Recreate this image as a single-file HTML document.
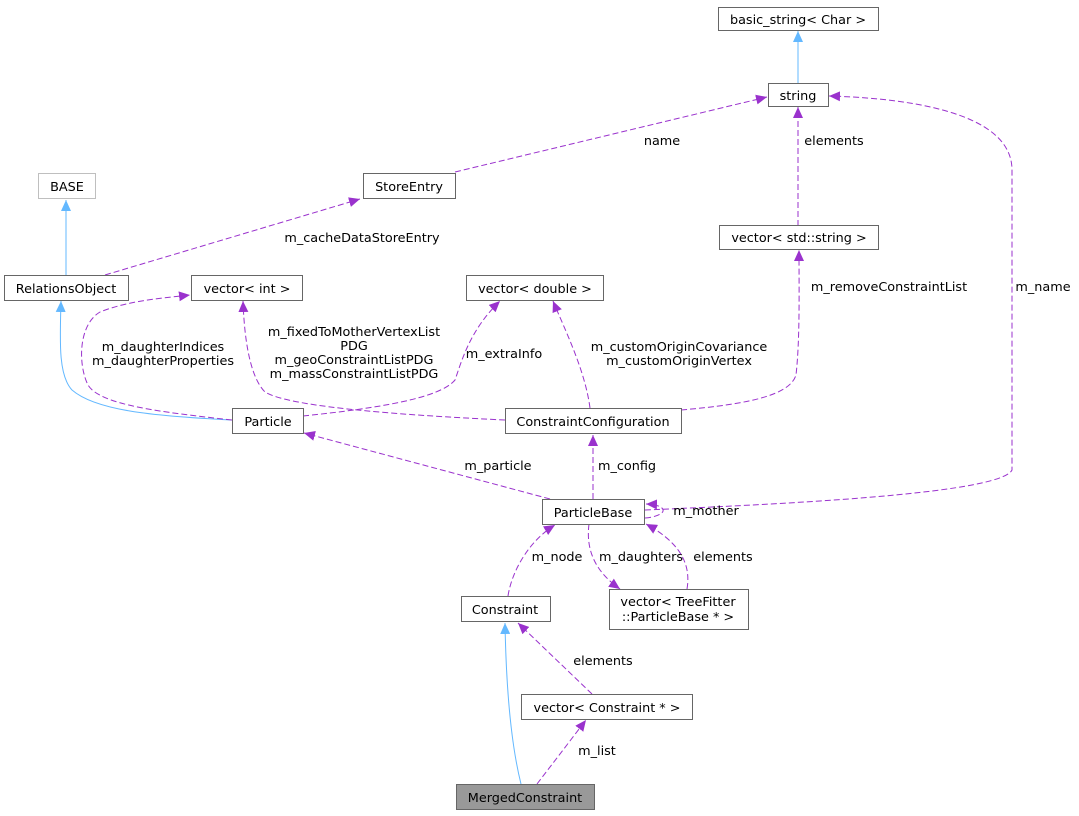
<!DOCTYPE html>
<html><head><meta charset="utf-8"><style>
html,body{margin:0;padding:0;background:#fff;}
svg{display:block;}
text{font-family:"DejaVu Sans","Liberation Sans",sans-serif;font-size:12.8px;fill:#000;}
.b{fill:#fff;stroke:#666;stroke-width:1;}
.p{fill:none;stroke:#9a32cd;stroke-width:1;stroke-dasharray:6,3;}
.u{fill:none;stroke:#63b8ff;stroke-width:1;}
</style></head><body>
<svg width="1079" height="816" viewBox="0 0 1079 816" xmlns="http://www.w3.org/2000/svg">
<defs>
<marker id="ap" markerWidth="12" markerHeight="10" refX="11" refY="5" orient="auto" markerUnits="userSpaceOnUse"><path d="M0,0 L11,5 L0,10 Z" fill="#9a32cd"/></marker>
<marker id="au" markerWidth="12" markerHeight="10" refX="11" refY="5" orient="auto" markerUnits="userSpaceOnUse"><path d="M0,0 L11,5 L0,10 Z" fill="#63b8ff"/></marker>
</defs>

<path class="u" d="M798,83 L798,31" marker-end="url(#au)"/>
<path class="u" d="M66,275 L66,200" marker-end="url(#au)"/>
<path class="u" d="M232,420 C150,416 95,410 72,390 C58,375 60,340 61,301" marker-end="url(#au)"/>
<path class="u" d="M521,784 C510,740 506,680 505,623" marker-end="url(#au)"/>

<path class="p" d="M105,275 L360,199" marker-end="url(#ap)"/>
<text x="362" y="242" text-anchor="middle">m_cacheDataStoreEntry</text>
<path class="p" d="M455,172 L767,97" marker-end="url(#ap)"/>
<text x="662" y="145" text-anchor="middle">name</text>
<path class="p" d="M798,226 L798,107" marker-end="url(#ap)"/>
<text x="834" y="145" text-anchor="middle">elements</text>
<path class="p" d="M645,510 C760,505 1000,495 1012,470 L1012,170 C1012,110 900,98 829,96" marker-end="url(#ap)"/>
<text x="1043" y="291" text-anchor="middle">m_name</text>

<path class="p" d="M232,420 C160,412 100,405 88,385 C78,365 78,325 100,312 C130,300 165,298 190,295" marker-end="url(#ap)"/>
<text x="163" y="351" text-anchor="middle">m_daughterIndices</text>
<text x="163" y="365" text-anchor="middle">m_daughterProperties</text>
<path class="p" d="M505,420 C420,416 290,408 265,392 C248,375 244,330 243,301" marker-end="url(#ap)"/>
<text x="354" y="336" text-anchor="middle">m_fixedToMotherVertexList</text>
<text x="354" y="350" text-anchor="middle">PDG</text>
<text x="354" y="364" text-anchor="middle">m_geoConstraintListPDG</text>
<text x="354" y="378" text-anchor="middle">m_massConstraintListPDG</text>
<path class="p" d="M303,416 C380,408 440,398 455,380 C462,360 470,330 500,301" marker-end="url(#ap)"/>
<text x="504" y="358" text-anchor="middle">m_extraInfo</text>
<path class="p" d="M590,408 C585,370 565,330 553,301" marker-end="url(#ap)"/>
<text x="679" y="351" text-anchor="middle">m_customOriginCovariance</text>
<text x="679" y="365" text-anchor="middle">m_customOriginVertex</text>
<path class="p" d="M681,410 C750,404 790,395 796,375 C800,340 799,290 799,250" marker-end="url(#ap)"/>
<text x="889" y="291" text-anchor="middle">m_removeConstraintList</text>

<path class="p" d="M550,499 L304,433" marker-end="url(#ap)"/>
<text x="498" y="470" text-anchor="middle">m_particle</text>
<path class="p" d="M593,499 L593,435" marker-end="url(#ap)"/>
<text x="627" y="470" text-anchor="middle">m_config</text>
<path class="p" d="M645,518 C668,516 670,505 646,504" marker-end="url(#ap)"/>
<text x="706" y="515" text-anchor="middle">m_mother</text>
<path class="p" d="M589,524 C585,555 600,575 620,589" marker-end="url(#ap)"/>
<text x="641" y="561" text-anchor="middle">m_daughters</text>
<path class="p" d="M687,589 C692,560 675,540 646,524" marker-end="url(#ap)"/>
<text x="723" y="561" text-anchor="middle">elements</text>
<path class="p" d="M508,596 C512,570 530,540 555,525" marker-end="url(#ap)"/>
<text x="557" y="561" text-anchor="middle">m_node</text>
<path class="p" d="M592,694 L518,623" marker-end="url(#ap)"/>
<text x="603" y="665" text-anchor="middle">elements</text>
<path class="p" d="M537,784 L586,720" marker-end="url(#ap)"/>
<text x="597" y="755" text-anchor="middle">m_list</text>

<rect class="b" x="718.5" y="7.5" width="160" height="23"/><text x="798" y="24" text-anchor="middle">basic_string&lt; Char &gt;</text>
<rect class="b" x="768.5" y="83.5" width="60" height="23"/><text x="798" y="100" text-anchor="middle">string</text>
<rect x="38.5" y="173.5" width="57" height="25" fill="#fff" stroke="#bfbfbf"/><text x="67" y="191" text-anchor="middle">BASE</text>
<rect class="b" x="363.5" y="173.5" width="92" height="25"/><text x="409" y="191" text-anchor="middle">StoreEntry</text>
<rect class="b" x="719.5" y="225.5" width="159" height="24"/><text x="799" y="242" text-anchor="middle">vector&lt; std::string &gt;</text>
<rect class="b" x="4.5" y="275.5" width="124" height="25"/><text x="66" y="293" text-anchor="middle">RelationsObject</text>
<rect class="b" x="191.5" y="275.5" width="111" height="25"/><text x="247" y="293" text-anchor="middle">vector&lt; int &gt;</text>
<rect class="b" x="466.5" y="275.5" width="137" height="25"/><text x="535" y="293" text-anchor="middle">vector&lt; double &gt;</text>
<rect class="b" x="232.5" y="408.5" width="71" height="25"/><text x="268" y="426" text-anchor="middle">Particle</text>
<rect class="b" x="505.5" y="408.5" width="176" height="25"/><text x="593" y="426" text-anchor="middle">ConstraintConfiguration</text>
<rect class="b" x="542.5" y="499.5" width="102" height="25"/><text x="593" y="517" text-anchor="middle">ParticleBase</text>
<rect class="b" x="461.5" y="596.5" width="89" height="25"/><text x="505" y="614" text-anchor="middle">Constraint</text>
<rect class="b" x="609.5" y="589.5" width="139" height="40"/><text x="678" y="606" text-anchor="middle">vector&lt; TreeFitter</text><text x="678" y="621" text-anchor="middle">::ParticleBase * &gt;</text>
<rect class="b" x="521.5" y="694.5" width="171" height="25"/><text x="607" y="712" text-anchor="middle">vector&lt; Constraint * &gt;</text>
<rect x="456.5" y="784.5" width="138" height="25" fill="#999" stroke="#666"/><text x="525" y="802" text-anchor="middle">MergedConstraint</text>
</svg>
</body></html>
